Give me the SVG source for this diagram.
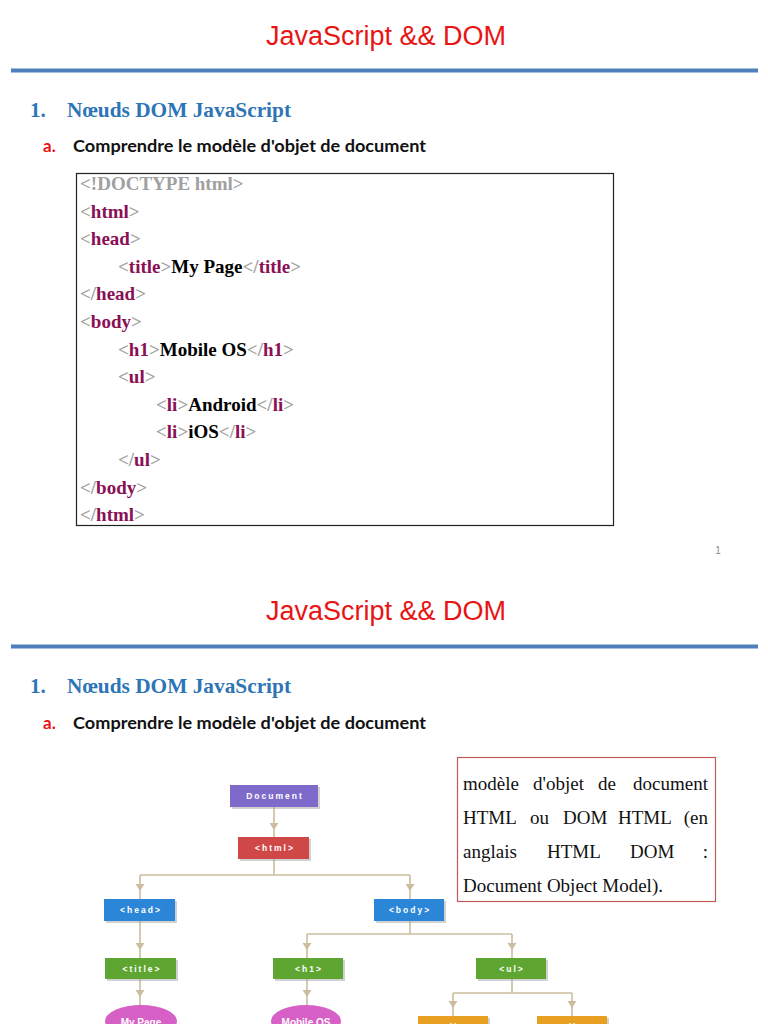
<svg xmlns="http://www.w3.org/2000/svg" xmlns:xlink="http://www.w3.org/1999/xlink" width="768" height="1024" viewBox="0 0 768 1024">
<style>
.title{font-family:"Liberation Sans",Arial,sans-serif;font-size:27px;fill:#e81414;text-anchor:middle}
.h1{font-family:"Liberation Serif","Times New Roman",serif;font-size:21px;font-weight:bold;fill:#2e75b6}
.sub{font-family:Lato,"Open Sans",sans-serif;font-size:17px;font-weight:bold;fill:#111}
.suba{font-family:Lato,"Open Sans",sans-serif;font-size:17px;font-weight:bold;fill:#e81414}
.code{font-family:"Liberation Serif","Times New Roman",serif;font-size:19px;font-weight:bold;fill:#000}
.g{fill:#a0a0a0}
.t{fill:#8a0f55}
.para{font-family:"Liberation Serif","Times New Roman",serif;font-size:19px;fill:#111}
.node text{font-family:"Liberation Sans",Arial,sans-serif;font-size:8.5px;font-weight:bold;fill:#fff;text-anchor:middle;letter-spacing:2px}
.shadow{fill:#9a9a9a;opacity:0.45}
.conn line{stroke:#cbbd9d;stroke-width:1.6}
.conn use{fill:#cbbd9d}
</style>
<defs>
<path id="ah" d="M-4.5,-7 L4.5,-7 L0,0 Z"/>
</defs>
<rect x="0" y="0" width="768" height="1024" fill="#fff"/>

<!-- Slide 1 -->
<g id="slide1-header">
<text class="title" x="386" y="45">JavaScript &amp;&amp; DOM</text>
<rect x="11" y="68.5" width="747" height="4" fill="#4f7fbd"/>
<text class="h1" x="30" y="117">1.</text>
<text class="h1" x="67" y="117" textLength="224" lengthAdjust="spacingAndGlyphs">Nœuds DOM JavaScript</text>
<text class="suba" x="43" y="152">a.</text>
<text class="sub" x="73" y="152" textLength="353" lengthAdjust="spacingAndGlyphs">Comprendre le modèle d'objet de document</text>
</g>

<g id="code-box">
<rect x="76.5" y="173.5" width="537" height="352" fill="#fff" stroke="#222" stroke-width="1.2"/>
<text class="code" x="80" y="190"><tspan class="g">&lt;!DOCTYPE html&gt;</tspan></text>
<text class="code" x="80" y="217.6"><tspan class="g">&lt;</tspan><tspan class="t">html</tspan><tspan class="g">&gt;</tspan></text>
<text class="code" x="80" y="245.2"><tspan class="g">&lt;</tspan><tspan class="t">head</tspan><tspan class="g">&gt;</tspan></text>
<text class="code" x="118" y="272.8"><tspan class="g">&lt;</tspan><tspan class="t">title</tspan><tspan class="g">&gt;</tspan>My Page<tspan class="g">&lt;/</tspan><tspan class="t">title</tspan><tspan class="g">&gt;</tspan></text>
<text class="code" x="80" y="300.4"><tspan class="g">&lt;/</tspan><tspan class="t">head</tspan><tspan class="g">&gt;</tspan></text>
<text class="code" x="80" y="328"><tspan class="g">&lt;</tspan><tspan class="t">body</tspan><tspan class="g">&gt;</tspan></text>
<text class="code" x="118" y="355.6"><tspan class="g">&lt;</tspan><tspan class="t">h1</tspan><tspan class="g">&gt;</tspan>Mobile OS<tspan class="g">&lt;/</tspan><tspan class="t">h1</tspan><tspan class="g">&gt;</tspan></text>
<text class="code" x="118" y="383.2"><tspan class="g">&lt;</tspan><tspan class="t">ul</tspan><tspan class="g">&gt;</tspan></text>
<text class="code" x="156" y="410.8"><tspan class="g">&lt;</tspan><tspan class="t">li</tspan><tspan class="g">&gt;</tspan>Android<tspan class="g">&lt;/</tspan><tspan class="t">li</tspan><tspan class="g">&gt;</tspan></text>
<text class="code" x="156" y="438.4"><tspan class="g">&lt;</tspan><tspan class="t">li</tspan><tspan class="g">&gt;</tspan>iOS<tspan class="g">&lt;/</tspan><tspan class="t">li</tspan><tspan class="g">&gt;</tspan></text>
<text class="code" x="118" y="466"><tspan class="g">&lt;/</tspan><tspan class="t">ul</tspan><tspan class="g">&gt;</tspan></text>
<text class="code" x="80" y="493.6"><tspan class="g">&lt;/</tspan><tspan class="t">body</tspan><tspan class="g">&gt;</tspan></text>
<text class="code" x="80" y="521.2"><tspan class="g">&lt;/</tspan><tspan class="t">html</tspan><tspan class="g">&gt;</tspan></text>
</g>
<text x="718" y="554" font-family="Liberation Sans,Arial,sans-serif" font-size="10" fill="#8a8a8a" text-anchor="middle">1</text>

<!-- Slide 2 -->
<g id="slide2-header">
<text class="title" x="386" y="620">JavaScript &amp;&amp; DOM</text>
<rect x="11" y="644.5" width="747" height="4" fill="#4f7fbd"/>
<text class="h1" x="30" y="693">1.</text>
<text class="h1" x="67" y="693" textLength="224" lengthAdjust="spacingAndGlyphs">Nœuds DOM JavaScript</text>
<text class="suba" x="43" y="729">a.</text>
<text class="sub" x="73" y="729" textLength="353" lengthAdjust="spacingAndGlyphs">Comprendre le modèle d'objet de document</text>
</g>

<g id="definition-box">
<rect x="457.5" y="757.5" width="258" height="144" fill="#fff" stroke="#c05a5a" stroke-width="1.2"/>
<text class="para" y="790"><tspan x="463">modèle</tspan><tspan x="533">d'objet</tspan><tspan x="598">de</tspan><tspan x="708" text-anchor="end">document</tspan></text>
<text class="para" y="824"><tspan x="463">HTML</tspan><tspan x="530">ou</tspan><tspan x="563">DOM</tspan><tspan x="618">HTML</tspan><tspan x="708" text-anchor="end">(en</tspan></text>
<text class="para" y="858"><tspan x="463">anglais</tspan><tspan x="547">HTML</tspan><tspan x="630">DOM</tspan><tspan x="708" text-anchor="end">:</tspan></text>
<text class="para" x="463" y="892">Document Object Model).</text>
</g>

<g id="connectors" class="conn">
<line x1="274" y1="807" x2="274" y2="837"/>
<use xlink:href="#ah" x="274" y="830"/>
<line x1="274" y1="859" x2="274" y2="875"/>
<line x1="140" y1="875" x2="410" y2="875"/>
<line x1="140" y1="875" x2="140" y2="899"/>
<line x1="410" y1="875" x2="410" y2="899"/>
<use xlink:href="#ah" x="140" y="891"/>
<use xlink:href="#ah" x="410" y="891"/>
<line x1="140" y1="921" x2="140" y2="958"/>
<use xlink:href="#ah" x="140" y="950"/>
<line x1="140" y1="979" x2="140" y2="1005"/>
<use xlink:href="#ah" x="140" y="997"/>
<line x1="410" y1="921" x2="410" y2="934"/>
<line x1="307" y1="934" x2="512" y2="934"/>
<line x1="307" y1="934" x2="307" y2="958"/>
<line x1="512" y1="934" x2="512" y2="958"/>
<use xlink:href="#ah" x="307" y="950"/>
<use xlink:href="#ah" x="512" y="950"/>
<line x1="307" y1="979" x2="307" y2="1005"/>
<use xlink:href="#ah" x="307" y="997"/>
<line x1="512" y1="979" x2="512" y2="993"/>
<line x1="453" y1="993" x2="572" y2="993"/>
<line x1="453" y1="993" x2="453" y2="1016"/>
<line x1="572" y1="993" x2="572" y2="1016"/>
<use xlink:href="#ah" x="453" y="1008"/>
<use xlink:href="#ah" x="572" y="1008"/>
</g>

<g id="node-document" class="node">
<rect class="shadow" x="232" y="787" width="88" height="22"/>
<rect x="230" y="785" width="88" height="22" fill="#7d6acb"/>
<text x="275" y="799">Document</text>
</g>
<g id="node-html" class="node">
<rect class="shadow" x="240" y="839" width="71" height="22"/>
<rect x="238" y="837" width="71" height="22" fill="#d04747"/>
<text x="275" y="851">&lt;html&gt;</text>
</g>
<g id="node-head" class="node">
<rect class="shadow" x="106" y="901" width="71" height="22"/>
<rect x="104" y="899" width="71" height="22" fill="#2b86d8"/>
<text x="141" y="913">&lt;head&gt;</text>
</g>
<g id="node-body" class="node">
<rect class="shadow" x="376" y="901" width="70" height="22"/>
<rect x="374" y="899" width="70" height="22" fill="#2b86d8"/>
<text x="410" y="913">&lt;body&gt;</text>
</g>
<g id="node-title" class="node">
<rect class="shadow" x="107" y="960" width="71" height="21"/>
<rect x="105" y="958" width="71" height="21" fill="#5ea631"/>
<text x="142" y="971.5">&lt;title&gt;</text>
</g>
<g id="node-h1" class="node">
<rect class="shadow" x="275" y="960" width="70" height="21"/>
<rect x="273" y="958" width="70" height="21" fill="#5ea631"/>
<text x="309" y="971.5">&lt;h1&gt;</text>
</g>
<g id="node-ul" class="node">
<rect class="shadow" x="478" y="960" width="70" height="21"/>
<rect x="476" y="958" width="70" height="21" fill="#5ea631"/>
<text x="512" y="971.5">&lt;ul&gt;</text>
</g>
<g id="node-li1" class="node">
<rect class="shadow" x="420" y="1018" width="70" height="21"/>
<rect x="418" y="1016" width="70" height="21" fill="#e8a023"/>
<text x="454" y="1029.5">&lt;li&gt;</text>
</g>
<g id="node-li2" class="node">
<rect class="shadow" x="539" y="1018" width="70" height="21"/>
<rect x="537" y="1016" width="70" height="21" fill="#e8a023"/>
<text x="573" y="1029.5">&lt;li&gt;</text>
</g>
<g id="node-mypage" class="node">
<ellipse cx="141" cy="1021" rx="36" ry="16" fill="#d660c6"/>
<text x="141" y="1026" style="letter-spacing:0;font-size:10px">My Page</text>
</g>
<g id="node-mobileos" class="node">
<ellipse cx="306" cy="1021" rx="35" ry="16" fill="#d660c6"/>
<text x="306" y="1026" style="letter-spacing:0;font-size:10px">Mobile OS</text>
</g>
</svg>
